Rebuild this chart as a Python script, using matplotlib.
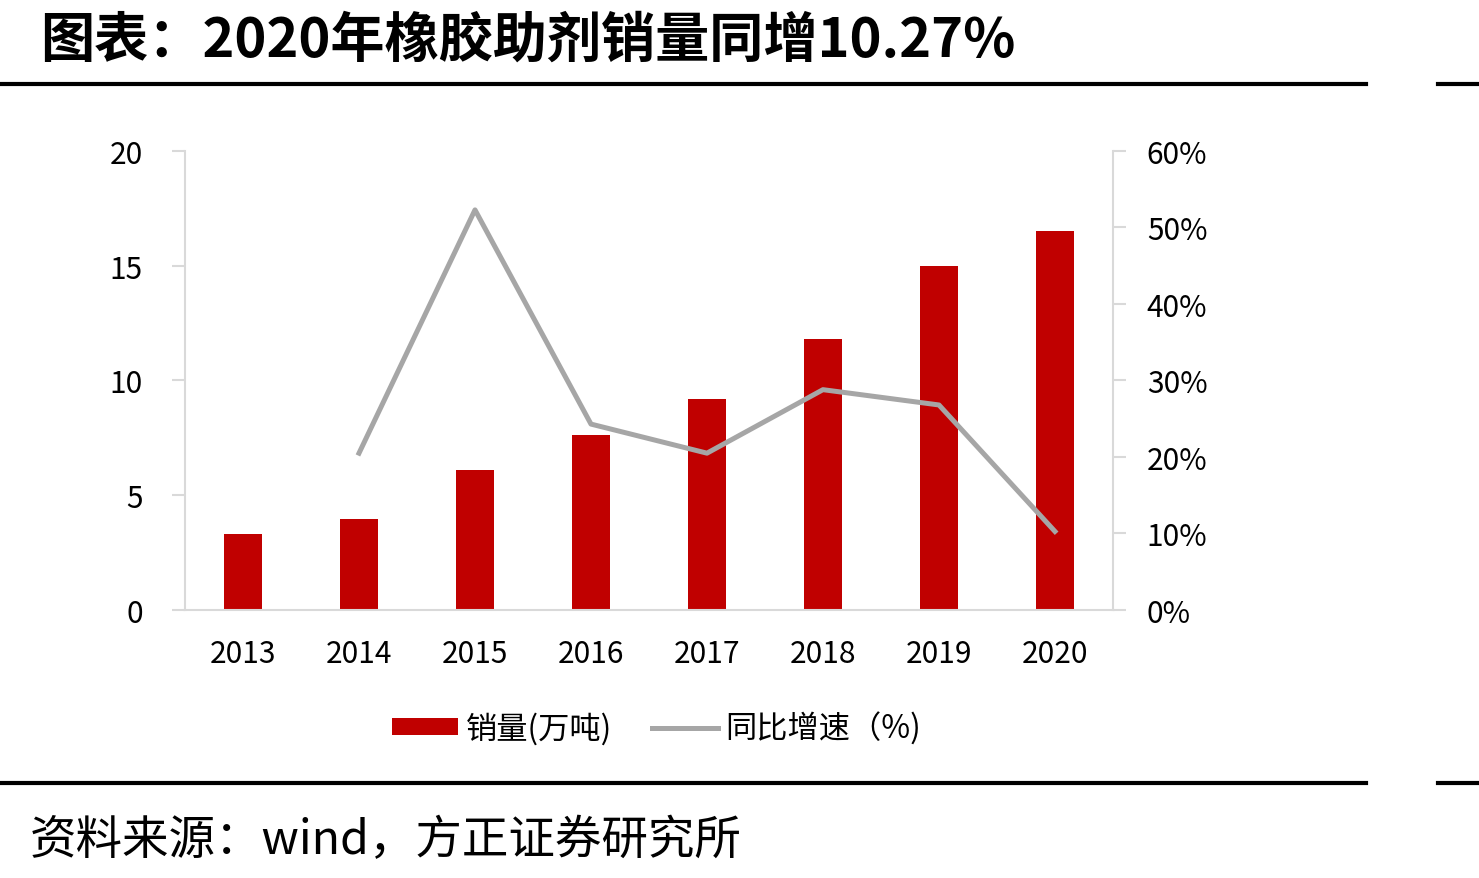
"""Rubber additive sales volume bars with YoY growth line."""

import matplotlib

matplotlib.use("Agg")

import matplotlib.pyplot as plt
import numpy as np
from matplotlib.ticker import FuncFormatter


years = ["2013", "2014", "2015", "2016", "2017", "2018", "2019", "2020"]
sales = [3.31, 3.97, 6.10, 7.63, 9.19, 11.81, 14.99, 16.51]
growth = [np.nan, 20.5, 52.3, 24.3, 20.5, 28.8, 26.8, 10.27]

title = "图表：2020年橡胶助剂销量同增10.27%"
source = "资料来源：wind，方正证券研究所"
bar_label = "销量(万吨)"
line_label = "同比增速（%)"

RED = "#c00000"
GRAY = "#a6a6a6"
AXIS_GRAY = "#d9d9d9"

plt.rcParams["font.family"] = ["Noto Sans CJK SC", "DejaVu Sans"]

fig = plt.figure(figsize=(14.79, 8.79), dpi=100)
ax = fig.add_axes([0.1251, 0.3049, 0.6274, 0.5222])
ax2 = ax.twinx()

x = np.arange(len(years))
bars = ax.bar(x, sales, width=0.32, color=RED, label=bar_label, zorder=2)
line, = ax2.plot(x, growth, color=GRAY, linewidth=3.6, label=line_label, zorder=3)

ax.set_xlim(-0.5, len(years) - 0.5)
ax.set_ylim(0, 20)
ax.set_yticks([0, 5, 10, 15, 20])
ax2.set_ylim(0, 60)
ax2.set_yticks([0, 10, 20, 30, 40, 50, 60])
ax2.yaxis.set_major_formatter(FuncFormatter(lambda v, _: f"{v:.0f}%"))

ax.set_xticks(x)
ax.set_xticklabels(years)

for a in (ax, ax2):
    a.spines["top"].set_visible(False)
    for side in ("left", "right", "bottom"):
        a.spines[side].set_color(AXIS_GRAY)
        a.spines[side].set_linewidth(1.5)
ax.spines["right"].set_visible(False)
ax2.spines["left"].set_visible(False)
ax2.spines["bottom"].set_visible(False)

ax.tick_params(axis="x", length=0, pad=20, labelsize=21.5)
ax.tick_params(axis="y", length=9.4, width=1.5, color=AXIS_GRAY, pad=21, labelsize=21.5)
ax2.tick_params(axis="y", length=9.4, width=1.5, color=AXIS_GRAY, pad=15, labelsize=21.5)

ax2.set_zorder(ax.get_zorder() + 1)
ax2.patch.set_visible(False)

fig.legend(
    [bars, line],
    [bar_label, line_label],
    loc="center",
    bbox_to_anchor=(0.444, 0.1706),
    ncol=2,
    frameon=False,
    fontsize=22.5,
    handlelength=2.1,
    handleheight=0.5,
    handletextpad=0.25,
    columnspacing=1.3,
)

fig.text(0.027, 0.953, title, fontsize=39, fontweight="bold", va="center", ha="left")
fig.text(0.020, 0.043, source, fontsize=33.5, fontstyle="italic", va="center", ha="left")

for y in (0.9034, 0.1081):
    fig.add_artist(plt.Line2D([0, 0.9236], [y, y], color="black", linewidth=3, transform=fig.transFigure))
    fig.add_artist(plt.Line2D([0.9723, 1.0], [y, y], color="black", linewidth=3, transform=fig.transFigure))

fig.savefig("out.png", dpi=100)
